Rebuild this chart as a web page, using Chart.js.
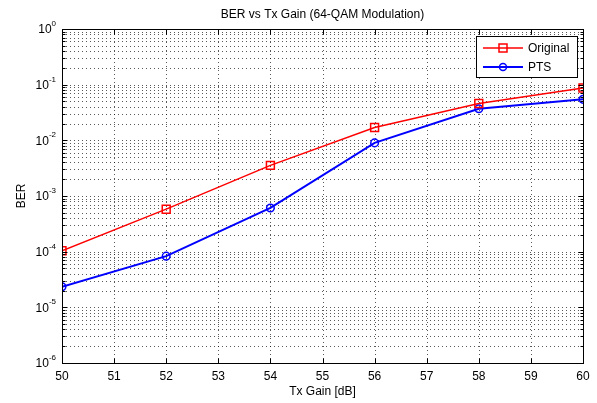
<!DOCTYPE html>
<html>
<head>
<meta charset="utf-8">
<script src="https://cdn.jsdelivr.net/npm/chart.js@4/dist/chart.umd.min.js"></script>
<style>
html,body{margin:0;padding:0;background:#fff;}
canvas{display:block;}
</style>
</head>
<body>
<canvas id="c" width="597" height="403" style="width:597px;height:403px"></canvas>
<script>
// ---- data ----
const gainDb = [50, 52, 54, 56, 58, 60];
const berOriginal = [1.04e-4, 5.8e-4, 3.55e-3, 1.7e-2, 4.6e-2, 8.7e-2];
const berPTS = [2.35e-5, 8.3e-5, 6.1e-4, 9.0e-3, 3.7e-2, 5.45e-2];
const seriesNames = ['Original', 'PTS'];
const xTicks = [50, 51, 52, 53, 54, 55, 56, 57, 58, 59, 60];
const yDecades = [1e-6, 1e-5, 1e-4, 1e-3, 1e-2, 1e-1, 1];
const yExponents = ['-6', '-5', '-4', '-3', '-2', '-1', '0'];
const yMantissas = [1, 2, 3, 4, 5, 6, 7, 8, 9];
const titleText = 'BER vs Tx Gain (64-QAM Modulation)';
const xTitle = 'Tx Gain [dB]';
const yTitle = 'BER';

const FONT = '"Liberation Sans", Arial, Helvetica, sans-serif';

// all y tick values (decades plus minor mantissas)
function buildYTicks() {
  const t = [];
  for (let i = 0; i < yDecades.length; i++) {
    if (i === yDecades.length - 1) { t.push(yDecades[i]); break; }
    for (const m of yMantissas) t.push(m * yDecades[i]);
  }
  return t;
}
const yTickValues = buildYTicks();

const matlabPlugin = {
  id: 'matlab',
  beforeDraw(chart) {
    const ctx = chart.ctx;
    ctx.save();
    ctx.fillStyle = '#fff';
    ctx.fillRect(0, 0, chart.width, chart.height);
    ctx.restore();
  },
  beforeDatasetsDraw(chart) {
    // dotted MATLAB-like grid
    const ctx = chart.ctx;
    const a = chart.chartArea;
    const xs = chart.scales.x, ys = chart.scales.y;
    ctx.save();
    ctx.strokeStyle = 'rgba(0,0,0,0.65)';
    ctx.lineWidth = 1;
    ctx.setLineDash([1, 3]);
    ctx.beginPath();
    for (const v of xTicks) {
      const px = Math.round(xs.getPixelForValue(v)) + 0.5;
      ctx.moveTo(px, a.bottom); ctx.lineTo(px, a.top);
    }
    for (const v of yTickValues) {
      const py = Math.round(ys.getPixelForValue(v)) + 0.5;
      ctx.moveTo(a.left, py); ctx.lineTo(a.right, py);
    }
    ctx.stroke();
    ctx.restore();
  },
  afterDraw(chart) {
    const ctx = chart.ctx;
    const a = chart.chartArea;
    const xs = chart.scales.x, ys = chart.scales.y;
    ctx.save();
    // axes box
    ctx.strokeStyle = '#000';
    ctx.lineWidth = 1;
    const L = Math.round(a.left) + 0.5, R = Math.round(a.right) + 0.5;
    const T = Math.round(a.top) + 0.5, B = Math.round(a.bottom) + 0.5;
    ctx.strokeRect(L, T, R - L, B - T);
    // inward tick marks
    ctx.beginPath();
    for (const v of xTicks) {
      const px = Math.round(xs.getPixelForValue(v)) + 0.5;
      ctx.moveTo(px, B); ctx.lineTo(px, B - 5);
      ctx.moveTo(px, T); ctx.lineTo(px, T + 5);
    }
    for (const v of yTickValues) {
      const py = Math.round(ys.getPixelForValue(v)) + 0.5;
      const isMajor = yDecades.includes(v);
      const len = isMajor ? 5 : 3;
      ctx.moveTo(L, py); ctx.lineTo(L + len, py);
      ctx.moveTo(R, py); ctx.lineTo(R - len, py);
    }
    ctx.stroke();

    // y tick labels with superscript exponents
    ctx.fillStyle = '#000';
    for (let i = 0; i < yDecades.length; i++) {
      const py = ys.getPixelForValue(yDecades[i]);
      const rightEdge = a.left - 6;
      ctx.font = '8px ' + FONT;
      const ew = ctx.measureText(yExponents[i]).width;
      ctx.textAlign = 'right';
      ctx.textBaseline = 'alphabetic';
      ctx.fillText(yExponents[i], rightEdge, py - 3);
      ctx.font = '12px ' + FONT;
      ctx.textBaseline = 'middle';
      ctx.fillText('10', rightEdge - ew, py + 1);
    }

    // title
    const cx = (a.left + a.right) / 2;
    ctx.font = '12px ' + FONT;
    ctx.textAlign = 'center';
    ctx.textBaseline = 'middle';
    ctx.fillText(titleText, cx, 15);
    // x title
    ctx.fillText(xTitle, cx, 392);
    // y title
    ctx.save();
    ctx.translate(22, (a.top + a.bottom) / 2);
    ctx.rotate(-Math.PI / 2);
    ctx.fillText(yTitle, 0, 0);
    ctx.restore();

    // legend
    const lx = 476.5, ly = 36.5, lw = 101, lh = 41;
    ctx.fillStyle = '#fff';
    ctx.fillRect(lx, ly, lw, lh);
    ctx.strokeStyle = '#000';
    ctx.lineWidth = 1;
    ctx.strokeRect(lx, ly, lw, lh);
    const rows = [48, 67];
    chart.data.datasets.forEach((ds, i) => {
      const yy = rows[i];
      ctx.strokeStyle = ds.borderColor;
      ctx.lineWidth = ds.borderWidth;
      ctx.beginPath();
      ctx.moveTo(483, yy); ctx.lineTo(523, yy);
      ctx.stroke();
      ctx.lineWidth = ds.pointBorderWidth;
      ctx.beginPath();
      if (ds.pointStyle === 'rect') {
        ctx.rect(503 - 4, yy - 4, 8, 8);
      } else {
        ctx.arc(503, yy, 3.5, 0, Math.PI * 2);
      }
      ctx.stroke();
      ctx.fillStyle = '#000';
      ctx.font = '12px ' + FONT;
      ctx.textAlign = 'left';
      ctx.textBaseline = 'middle';
      ctx.fillText(seriesNames[i], 528, yy + 1);
    });
    ctx.restore();
  }
};

new Chart(document.getElementById('c'), {
  type: 'line',
  data: {
    datasets: [
      {
        label: seriesNames[0],
        data: gainDb.map((g, i) => ({x: g, y: berOriginal[i]})),
        borderColor: '#ff0000',
        borderWidth: 1.5,
        pointStyle: 'rect',
        pointRadius: 5.6,
        pointBorderWidth: 1.5,
        pointBackgroundColor: 'rgba(0,0,0,0)',
        pointBorderColor: '#ff0000',
        tension: 0,
        fill: false
      },
      {
        label: seriesNames[1],
        data: gainDb.map((g, i) => ({x: g, y: berPTS[i]})),
        borderColor: '#0000ff',
        borderWidth: 2,
        pointStyle: 'circle',
        pointRadius: 3.8,
        pointBorderWidth: 1.5,
        pointBackgroundColor: 'rgba(0,0,0,0)',
        pointBorderColor: '#0000ff',
        tension: 0,
        fill: false
      }
    ]
  },
  options: {
    responsive: false,
    devicePixelRatio: 1,
    animation: false,
    events: [],
    layout: { padding: { left: 0, right: 14, top: 29, bottom: 0 } },
    plugins: {
      legend: { display: false },
      title: { display: false },
      tooltip: { enabled: false }
    },
    scales: {
      x: {
        type: 'linear',
        min: 50,
        max: 60,
        afterBuildTicks: (s) => { s.ticks = xTicks.map(v => ({value: v})); },
        afterFit: (s) => { s.height = 40; },
        ticks: {
          autoSkip: false,
          padding: 6,
          color: '#000',
          font: { size: 12, family: FONT },
          maxRotation: 0
        },
        grid: { display: false, drawTicks: false },
        border: { display: false }
      },
      y: {
        type: 'logarithmic',
        min: 1e-6,
        max: 1,
        afterBuildTicks: (s) => { s.ticks = yTickValues.map(v => ({value: v, major: yDecades.includes(v)})); },
        afterFit: (s) => { s.width = 62; },
        ticks: {
          autoSkip: false,
          callback: () => '',
          font: { size: 12, family: FONT }
        },
        grid: { display: false, drawTicks: false },
        border: { display: false }
      }
    }
  },
  plugins: [matlabPlugin]
});
</script>
</body>
</html>
